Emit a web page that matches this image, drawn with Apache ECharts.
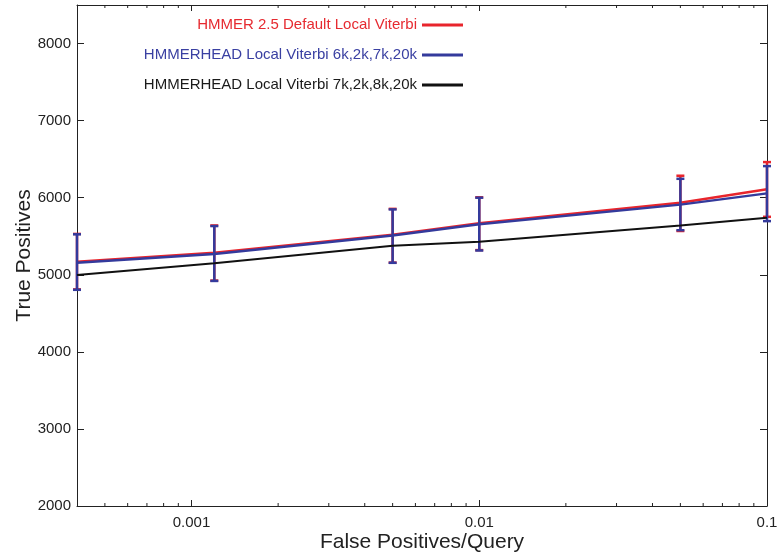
<!DOCTYPE html>
<html>
<head>
<meta charset="utf-8">
<script src="https://cdn.jsdelivr.net/npm/echarts@6/dist/echarts.min.js"></script>
<style>
html,body{margin:0;padding:0;background:#fff;}
#chart{width:777px;height:554px;}
</style>
</head>
<body>
<div id="chart"></div>
<script>
// ---- data ----
const xValues = [0.0004, 0.0012, 0.005, 0.01, 0.05, 0.1];

const redName = 'HMMER 2.5 Default Local Viterbi';
const redY    = [5168, 5285, 5520, 5670, 5935, 6110];
const redLow  = [4810, 4925, 5158, 5320, 5568, 5752];
const redHigh = [5530, 5640, 5855, 6005, 6285, 6462];

const blueName = 'HMMERHEAD Local Viterbi 6k,2k,7k,20k';
const blueY    = [5155, 5270, 5510, 5655, 5910, 6056];
const blueLow  = [4805, 4920, 5155, 5315, 5578, 5696];
const blueHigh = [5525, 5632, 5848, 6000, 6245, 6410];

const blackName = 'HMMERHEAD Local Viterbi 7k,2k,8k,20k';
const blackY    = [4996, 5150, 5375, 5428, 5640, 5740];

const xTickExponents = [-3, -2, -1];
const xTickLabels = ['0.001', '0.01', '0.1'];
const xMinorTicks = [0.0005, 0.0006, 0.0007, 0.0008, 0.0009,
                     0.002, 0.003, 0.004, 0.005, 0.006, 0.007, 0.008, 0.009,
                     0.02, 0.03, 0.04, 0.05, 0.06, 0.07, 0.08, 0.09];

const xMin = 0.0004, xMax = 0.1;
const yMin = 2000, yMax = 8500, yInterval = 1000;

const RED = '#e8252c', BLUE = '#343a9c', BLACK = '#111111';
const FONT = '"Liberation Sans", Arial, Helvetica, sans-serif';

function pairs(ys) { return xValues.map((x, i) => [x, ys[i]]); }
function bars(lo, hi) { return xValues.map((x, i) => [x, lo[i], hi[i]]); }

function errorBarRender(color) {
  return function (params, api) {
    const x = api.value(0);
    const top = api.coord([x, api.value(2)]);
    const bot = api.coord([x, api.value(1)]);
    const hw = 4;
    const style = { stroke: color, lineWidth: 2.5 };
    return {
      type: 'group',
      children: [
        { type: 'line', shape: { x1: top[0], y1: top[1], x2: bot[0], y2: bot[1] }, style },
        { type: 'line', shape: { x1: top[0] - hw, y1: top[1], x2: top[0] + hw, y2: top[1] }, style },
        { type: 'line', shape: { x1: bot[0] - hw, y1: bot[1], x2: bot[0] + hw, y2: bot[1] }, style }
      ]
    };
  };
}

function isDecade(v) {
  const l = Math.log10(v);
  return Math.abs(l - Math.round(l)) < 1e-6;
}

const axisLineStyle = { color: '#222', width: 1 };

const option = {
  animation: false,
  backgroundColor: '#fff',
  grid: { left: 77, right: 10, top: 5, bottom: 48, show: false, containLabel: false, outerBoundsMode: 'none' },
  legend: {
    orient: 'vertical',
    right: 309,
    top: 10,
    align: 'right',
    itemGap: 10,
    itemWidth: 41,
    itemHeight: 3,
    icon: 'rect',
    textStyle: { fontFamily: FONT, fontSize: 15, lineHeight: 20 },
    data: [
      { name: redName, textStyle: { color: '#e62a30' } },
      { name: blueName, textStyle: { color: '#3a40a2' } },
      { name: blackName, textStyle: { color: '#1a1a1a' } }
    ],
    selectedMode: false
  },
  xAxis: [
    {
      type: 'log', logBase: 10, min: xMin, max: xMax, position: 'bottom',
      name: 'False Positives/Query', nameLocation: 'middle', nameGap: 26,
      nameMoveOverlap: false,
      nameTextStyle: { fontFamily: FONT, fontSize: 21, color: '#222' },
      axisLine: { show: true, lineStyle: axisLineStyle },
      axisTick: { show: true, inside: true, length: 6, lineStyle: axisLineStyle },
      axisLabel: {
        fontFamily: FONT, fontSize: 15, color: '#222', margin: 9,
        showMinLabel: true, showMaxLabel: true,
        formatter: function (v) {
          if (!isDecade(v)) return '';
          const idx = xTickExponents.indexOf(Math.round(Math.log10(v)));
          return idx >= 0 ? xTickLabels[idx] : '';
        }
      },
      splitLine: { show: false }
    },
    {
      type: 'log', logBase: 10, min: xMin, max: xMax, position: 'top',
      axisLine: { show: true, lineStyle: axisLineStyle },
      axisTick: { show: true, inside: true, length: 6, lineStyle: axisLineStyle },
      axisLabel: { show: false },
      splitLine: { show: false }
    }
  ],
  yAxis: [
    {
      type: 'value', min: yMin, max: yMax, interval: yInterval, position: 'left',
      name: 'True Positives', nameLocation: 'middle', nameGap: 42,
      nameMoveOverlap: false,
      nameTextStyle: { fontFamily: FONT, fontSize: 21, color: '#222' },
      axisLine: { show: true, lineStyle: axisLineStyle },
      axisTick: { show: true, inside: true, length: 7, lineStyle: axisLineStyle },
      axisLabel: {
        fontFamily: FONT, fontSize: 15, color: '#222', margin: 6, showMaxLabel: false,
        formatter: function (v) { return String(Math.round(v)); }
      },
      splitLine: { show: false }
    },
    {
      type: 'value', min: yMin, max: yMax, interval: yInterval, position: 'right',
      axisLine: { show: true, lineStyle: axisLineStyle },
      axisTick: { show: true, inside: true, length: 7, lineStyle: axisLineStyle },
      axisLabel: { show: false },
      splitLine: { show: false }
    }
  ],
  series: [
    {
      name: 'minorTicks', type: 'custom', silent: true, z: 1,
      data: xMinorTicks.map(v => [v, yMin]),
      renderItem: function (params, api) {
        const p = api.coord([api.value(0), yMin]);
        const cs = params.coordSys;
        const len = 3;
        const style = { stroke: '#222', lineWidth: 1 };
        return {
          type: 'group',
          children: [
            { type: 'line', shape: { x1: p[0], y1: cs.y + cs.height, x2: p[0], y2: cs.y + cs.height - len }, style },
            { type: 'line', shape: { x1: p[0], y1: cs.y, x2: p[0], y2: cs.y + len }, style }
          ]
        };
      }
    },
    {
      name: redName, type: 'line', data: pairs(redY), color: RED,
      symbol: 'none', lineStyle: { color: RED, width: 2.5 }, z: 2
    },
    {
      name: redName + ' err', type: 'custom', data: bars(redLow, redHigh),
      encode: { x: 0, y: [1, 2] }, renderItem: errorBarRender(RED), z: 3
    },
    {
      name: blueName, type: 'line', data: pairs(blueY), color: BLUE,
      symbol: 'none', lineStyle: { color: BLUE, width: 2.5 }, z: 4
    },
    {
      name: blueName + ' err', type: 'custom', data: bars(blueLow, blueHigh),
      encode: { x: 0, y: [1, 2] }, renderItem: errorBarRender(BLUE), z: 5
    },
    {
      name: blackName, type: 'line', data: pairs(blackY), color: BLACK,
      symbol: 'none', lineStyle: { color: BLACK, width: 2 }, z: 6
    }
  ]
};

const chart = echarts.init(document.getElementById('chart'), null, { renderer: 'canvas' });
chart.setOption(option);
</script>
</body>
</html>
